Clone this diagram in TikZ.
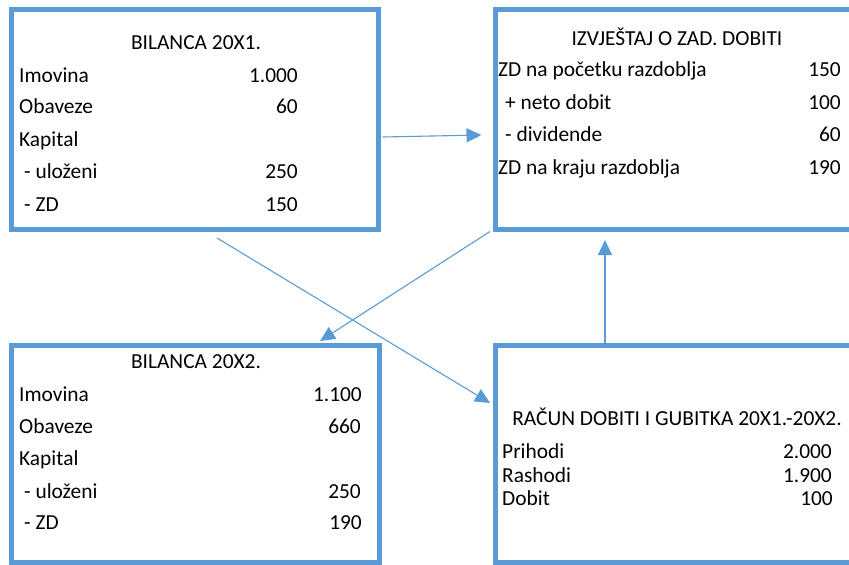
\documentclass[tikz,border=0pt]{standalone}
\usepackage{fontspec}
\setmainfont{Carlito}
\usetikzlibrary{arrows.meta,calc}
\definecolor{boxblue}{HTML}{5B9BD5}
\begin{document}
\begin{tikzpicture}[x=1pt,y=-1pt,
  frame/.style={draw=boxblue,line width=5pt,rectangle,inner sep=0pt},
  lbl/.style={anchor=base west,inner sep=0pt,font=\fontsize{21.4}{25}\selectfont},
  num/.style={anchor=base east,inner sep=0pt,font=\fontsize{21.4}{25}\selectfont},
  ttl/.style={anchor=base,inner sep=0pt,font=\fontsize{21.4}{25}\selectfont},
  arr/.style={draw=boxblue,line width=1.1pt,-{Triangle[length=15pt,width=14pt]}}]
\clip (0,0) rectangle (849,565);
\useasboundingbox (0,0) rectangle (849,565);
% boxes
\node[frame,minimum width=367pt,minimum height=220pt] (b1) at (194.5,119) {};
\node[frame,minimum width=385pt,minimum height=220pt] (b2) at (687.5,119) {};
\node[frame,minimum width=368pt,minimum height=217pt] (b3) at (195,453.5) {};
\node[frame,minimum width=385pt,minimum height=217pt] (b4) at (687.5,453.5) {};
% box 1
\node[ttl] (t1) at (196,49) {BILANCA 20X1.};
\node[lbl] (l11) at (19,82) {Imovina};
\node[num] (n11) at (298,82) {1.000};
\node[lbl] (l12) at (19,113) {Obaveze};
\node[num] (n12) at (298,113) {60};
\node[lbl] (l13) at (19,146) {Kapital};
\node[lbl] (l14) at (24,178) {- uloženi};
\node[num] (n14) at (298,178) {250};
\node[lbl] (l15) at (24,211) {- ZD};
\node[num] (n15) at (298,211) {150};
% box 2
\node[ttl] (t2) at (677,45) {IZVJEŠTAJ O ZAD. DOBITI};
\node[lbl] (l21) at (498,76) {ZD na početku razdoblja};
\node[num] (n21) at (841,76) {150};
\node[lbl] (l22) at (505,109) {+ neto dobit};
\node[num] (n22) at (841,109) {100};
\node[lbl] (l23) at (505,141) {- dividende};
\node[num] (n23) at (841,141) {60};
\node[lbl] (l24) at (498,174) {ZD na kraju razdoblja};
\node[num] (n24) at (841,174) {190};
% box 3
\node[ttl] (t3) at (196,368) {BILANCA 20X2.};
\node[lbl] (l31) at (19,401) {Imovina};
\node[num] (n31) at (362,401) {1.100};
\node[lbl] (l32) at (19,433) {Obaveze};
\node[num] (n32) at (361,433) {660};
\node[lbl] (l33) at (19,465) {Kapital};
\node[lbl] (l34) at (24,498) {- uloženi};
\node[num] (n34) at (361,498) {250};
\node[lbl] (l35) at (24,529) {- ZD};
\node[num] (n35) at (362,529) {190};
% box 4
\node[ttl] (t4) at (677,425) {RAČUN DOBITI I GUBITKA 20X1.-20X2.};
\node[lbl] (l41) at (502,458) {Prihodi};
\node[num] (n41) at (832,458) {2.000};
\node[lbl] (l42) at (502,482) {Rashodi};
\node[num] (n42) at (832,482) {1.900};
\node[lbl] (l43) at (502,505) {Dobit};
\node[num] (n43) at (833,505) {100};
% connectors
\draw[arr] ($(b1.east)+(2,18)$) -- ($(b2.west)+(-11,16)$);
\draw[arr] ($(b1.south)+(22.5,6.5)$) -- ($(b4.west)+(-2.5,-50.5)$);
\draw[arr] ($(b2.south west)+(-2.5,0)$) -- ($(b3.north)+(125,-1.5)$);
\draw[arr] ($(b4.north west)+(112.5,0.5)$) -- ($(b2.south west)+(112.5,8.5)$);
\end{tikzpicture}
\end{document}
